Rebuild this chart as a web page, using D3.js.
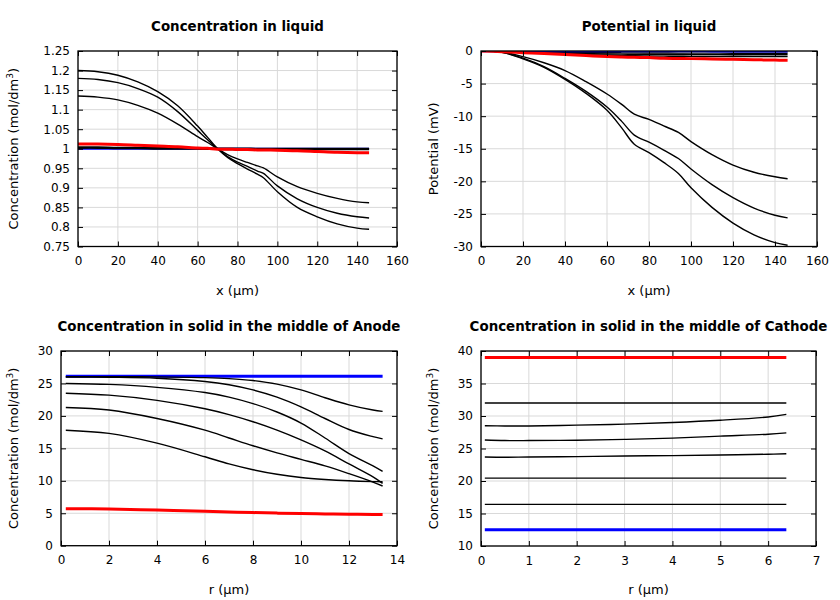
<!DOCTYPE html>
<html>
<head>
<meta charset="utf-8">
<script src="https://cdn.jsdelivr.net/npm/d3@7"></script>
<style>
  body { margin: 0; background: #fff; }
  svg { display: block; font-family: "DejaVu Sans", sans-serif; }
</style>
</head>
<body>
<svg id="chart" width="840" height="600"></svg>
<script>
// ---------------- DATA ----------------
// Panel 1: Concentration in liquid
const liqX = [0, 10, 20, 30, 40, 50, 60, 65, 70, 75, 80, 85, 90, 93, 100, 110, 120, 130, 140, 146];
const liqBlue  = [1, 1, 1, 1, 1, 1, 1, 1, 1, 1, 1, 1, 1, 1, 1, 1, 1, 1, 1, 1];
const liqBlack0 = [1.003, 1.003, 1.002, 1.002, 1.001, 1.001, 1.0005, 1.0003, 1.0, 0.9998, 0.9997, 0.9996, 0.9995, 0.9995, 0.9995, 0.9995, 0.9995, 0.9995, 0.9995, 0.9995];
const liqC1 = [1.200, 1.197, 1.188, 1.171, 1.146, 1.110, 1.058, 1.029, 1.000, 0.978, 0.962, 0.948, 0.935, 0.926, 0.890, 0.850, 0.826, 0.808, 0.797, 0.794];
const liqC2 = [1.180, 1.177, 1.169, 1.154, 1.132, 1.095, 1.047, 1.023, 1.000, 0.980, 0.966, 0.955, 0.943, 0.937, 0.905, 0.872, 0.850, 0.835, 0.826, 0.823];
const liqC3 = [1.135, 1.132, 1.125, 1.111, 1.091, 1.063, 1.031, 1.016, 1.000, 0.985, 0.974, 0.965, 0.956, 0.951, 0.928, 0.903, 0.886, 0.873, 0.864, 0.862];
const liqRed = [1.012, 1.012, 1.011, 1.009, 1.007, 1.005, 1.002, 1.001, 0.999, 0.999, 0.998, 0.998, 0.997, 0.997, 0.996, 0.995, 0.993, 0.991, 0.990, 0.990];
const liqXTicks = [0, 20, 40, 60, 80, 100, 120, 140, 160];
const liqYTicks = [0.75, 0.8, 0.85, 0.9, 0.95, 1, 1.05, 1.1, 1.15, 1.2, 1.25];

// Panel 2: Potential in liquid
const potX = [0, 10, 20, 30, 40, 50, 60, 67, 73, 80, 87, 94, 100, 110, 120, 130, 140, 146];
const potBlue = [0, 0, 0, 0, 0, 0, 0, 0, 0, 0, 0, 0, -0.01, -0.02, -0.03, -0.04, -0.05, -0.05];
const potS1 = [0, 0, -0.1, -0.15, -0.2, -0.23, -0.26, -0.28, -0.29, -0.3, -0.31, -0.32, -0.32, -0.33, -0.34, -0.34, -0.35, -0.35];
const potS2 = [0, -0.05, -0.15, -0.25, -0.33, -0.4, -0.45, -0.48, -0.5, -0.52, -0.53, -0.54, -0.55, -0.56, -0.57, -0.57, -0.58, -0.58];
const potS3 = [0, -0.07, -0.2, -0.33, -0.45, -0.56, -0.65, -0.7, -0.74, -0.77, -0.79, -0.81, -0.82, -0.84, -0.85, -0.86, -0.87, -0.87];
const potP1 = [0, -0.15, -0.87, -1.8, -3.0, -4.7, -6.6, -8.2, -9.7, -10.5, -11.5, -12.5, -13.9, -15.9, -17.5, -18.6, -19.3, -19.6];
const potP2 = [0, -0.2, -1.1, -2.4, -4.2, -6.2, -8.6, -10.8, -12.9, -14.0, -15.2, -16.5, -18.1, -20.5, -22.5, -24.1, -25.2, -25.6];
const potP3 = [0, -0.2, -1.2, -2.5, -4.35, -6.5, -9.1, -11.8, -14.3, -15.6, -17.1, -18.8, -21.0, -24.0, -26.4, -28.2, -29.4, -29.8];
const potRed = [0, -0.1, -0.25, -0.4, -0.55, -0.7, -0.85, -0.92, -0.97, -1.0, -1.12, -1.14, -1.17, -1.22, -1.28, -1.34, -1.4, -1.42];
const potXTicks = [0, 20, 40, 60, 80, 100, 120, 140, 160];
const potYTicks = [-30, -25, -20, -15, -10, -5, 0];

// Panel 3: Concentration in solid, middle of Anode
const anR = [0.2, 2, 4, 6, 7, 8, 9, 10, 11, 12, 13, 13.4];
const anBlue = [26.1, 26.1, 26.1, 26.1, 26.1, 26.1, 26.1, 26.1, 26.1, 26.1, 26.1, 26.1];
const anK0 = [26.05, 26.05, 26.02, 25.9, 25.75, 25.45, 24.9, 24.0, 22.8, 21.7, 20.9, 20.7];
const anK1 = [26.0, 25.95, 25.8, 25.3, 24.8, 24.0, 22.9, 21.4, 19.6, 17.9, 16.8, 16.45];
const anK2 = [25.0, 24.85, 24.4, 23.6, 22.9, 21.9, 20.6, 18.9, 16.6, 14.2, 12.3, 11.45];
const anK3 = [23.5, 23.2, 22.4, 21.1, 20.2, 19.1, 17.8, 16.3, 14.6, 12.6, 10.6, 9.6];
const anK4 = [21.3, 20.9, 19.6, 17.8, 16.6, 15.4, 14.3, 13.3, 12.3, 11.1, 9.8, 9.2];
const anK5 = [17.8, 17.3, 15.8, 13.7, 12.6, 11.7, 11.0, 10.5, 10.2, 10.0, 9.88, 9.85];
const anRed = [5.7, 5.65, 5.5, 5.3, 5.2, 5.1, 5.02, 4.95, 4.9, 4.85, 4.82, 4.8];
const anXTicks = [0, 2, 4, 6, 8, 10, 12, 14];
const anYTicks = [0, 5, 10, 15, 20, 25, 30];

// Panel 4: Concentration in solid, middle of Cathode
const caR = [0.08, 0.5, 1, 2, 3, 4, 5, 6, 6.38];
const caRed = [39, 39, 39, 39, 39, 39, 39, 39, 39];
const caF1 = [32, 32, 32, 32, 32, 32, 32, 32, 32];
const caA = [28.5, 28.47, 28.47, 28.6, 28.75, 29.0, 29.35, 29.85, 30.25];
const caB = [26.3, 26.22, 26.22, 26.27, 26.4, 26.6, 26.9, 27.2, 27.4];
const caC = [23.7, 23.66, 23.7, 23.75, 23.85, 23.9, 24.0, 24.12, 24.2];
const caF2 = [20.45, 20.45, 20.45, 20.45, 20.45, 20.45, 20.45, 20.45, 20.45];
const caF3 = [16.4, 16.4, 16.4, 16.4, 16.4, 16.4, 16.4, 16.4, 16.4];
const caBlue = [12.5, 12.5, 12.5, 12.5, 12.5, 12.5, 12.5, 12.5, 12.5];
const caXTicks = [0, 1, 2, 3, 4, 5, 6, 7];
const caYTicks = [10, 15, 20, 25, 30, 35, 40];

// ---------------- DRAWING ----------------
const svg = d3.select("#chart");
const BLUE = "#0000ff", RED = "#ff0000", BLACK = "#000000";

function panel(cfg) {
  const { left, right, top, bottom } = cfg.box;
  const w = right - left, h = bottom - top;
  const x = d3.scaleLinear().domain(cfg.xDomain).range([0, w]);
  const y = d3.scaleLinear().domain(cfg.yDomain).range([h, 0]);
  const g = svg.append("g").attr("transform", `translate(${left},${top})`);

  // grid
  const grid = g.append("g").attr("class", "grid");
  grid.selectAll("line.gx").data(cfg.xTicks).join("line")
    .attr("x1", d => x(d)).attr("x2", d => x(d)).attr("y1", 0).attr("y2", h)
    .attr("stroke", "#d9d9d9").attr("stroke-width", 1);
  grid.selectAll("line.gy").data(cfg.yTicks).join("line")
    .attr("class", "gy")
    .attr("x1", 0).attr("x2", w).attr("y1", d => y(d)).attr("y2", d => y(d))
    .attr("stroke", "#d9d9d9").attr("stroke-width", 1);

  // series
  const clip = "clip" + cfg.id;
  g.append("clipPath").attr("id", clip).append("rect").attr("width", w).attr("height", h);
  const lines = g.append("g").attr("clip-path", `url(#${clip})`);
  const line = d3.line().x(d => x(d[0])).y(d => y(d[1])).curve(d3.curveCatmullRom.alpha(0.5));
  cfg.series.forEach(s => {
    lines.append("path")
      .datum(cfg.xs.map((xv, i) => [xv, s.values[i]]))
      .attr("d", line)
      .attr("fill", "none")
      .attr("stroke", s.color)
      .attr("stroke-width", s.width)
      .attr("stroke-linejoin", "round");
  });

  // axes with inward ticks
  const fmt = cfg.fmt || (d => d);
  const axB = g.append("g").attr("transform", `translate(0,${h})`)
    .call(d3.axisBottom(x).tickValues(cfg.xTicks).tickSize(-5).tickPadding(10).tickFormat(fmt));
  const axT = g.append("g")
    .call(d3.axisTop(x).tickValues(cfg.xTicks).tickSize(-5).tickFormat(""));
  const axL = g.append("g")
    .call(d3.axisLeft(y).tickValues(cfg.yTicks).tickSize(-5).tickPadding(8).tickFormat(cfg.yFmt || fmt));
  const axR = g.append("g").attr("transform", `translate(${w},0)`)
    .call(d3.axisRight(y).tickValues(cfg.yTicks).tickSize(-5).tickFormat(""));
  [axB, axT, axL, axR].forEach(a => {
    a.select(".domain").remove();
    a.selectAll(".tick line").attr("stroke", "#000").attr("stroke-width", 1);
    a.selectAll("text").attr("fill", "#000").attr("font-size", 12)
      .attr("font-family", "DejaVu Sans, sans-serif");
  });

  // frame
  g.append("rect").attr("width", w).attr("height", h)
    .attr("fill", "none").attr("stroke", "#000").attr("stroke-width", 1.3);

  // title
  svg.append("text").attr("x", left + w / 2).attr("y", top - 20.5)
    .attr("text-anchor", "middle").attr("font-size", 13.4).attr("font-weight", "bold")
    .text(cfg.title);
  // x label
  svg.append("text").attr("x", left + w / 2).attr("y", bottom + 48)
    .attr("text-anchor", "middle").attr("font-size", 13).text(cfg.xLabel);
  // y label
  const yl = svg.append("text")
    .attr("transform", `translate(${cfg.yLabelX},${top + h / 2}) rotate(-90)`)
    .attr("text-anchor", "middle").attr("font-size", 13);
  if (cfg.yLabelSup) {
    yl.append("tspan").text(cfg.yLabel);
    yl.append("tspan").attr("font-size", 9).attr("dy", -5).text(cfg.yLabelSup);
    yl.append("tspan").attr("dy", 5).text(")");
  } else {
    yl.text(cfg.yLabel);
  }
}

const concLabel = "Concentration (mol/dm";

panel({
  id: 1, box: { left: 78, right: 397, top: 51, bottom: 246.5 },
  xDomain: [0, 160], yDomain: [0.75, 1.25], xTicks: liqXTicks, yTicks: liqYTicks,
  xs: liqX,
  series: [
    { values: liqBlue, color: BLUE, width: 2 },
    { values: liqC1, color: BLACK, width: 1.4 },
    { values: liqC2, color: BLACK, width: 1.4 },
    { values: liqC3, color: BLACK, width: 1.4 },
    { values: liqBlack0, color: BLACK, width: 2.6 },
    { values: liqRed, color: RED, width: 3 }
  ],
  title: "Concentration in liquid", xLabel: "x (µm)",
  yLabel: concLabel, yLabelSup: "3", yLabelX: 18
});

panel({
  id: 2, box: { left: 481, right: 817, top: 51, bottom: 246.5 },
  xDomain: [0, 160], yDomain: [-30, 0], xTicks: potXTicks, yTicks: potYTicks,
  xs: potX,
  series: [
    { values: potS1, color: BLACK, width: 1.4 },
    { values: potS2, color: BLACK, width: 1.4 },
    { values: potS3, color: BLACK, width: 1.4 },
    { values: potP1, color: BLACK, width: 1.4 },
    { values: potP2, color: BLACK, width: 1.4 },
    { values: potP3, color: BLACK, width: 1.4 },
    { values: potBlue, color: BLUE, width: 2.5 },
    { values: potRed, color: RED, width: 3 }
  ],
  title: "Potential in liquid", xLabel: "x (µm)",
  yLabel: "Potential (mV)", yLabelX: 438
});

panel({
  id: 3, box: { left: 61, right: 397, top: 351, bottom: 545.7 },
  xDomain: [0, 14], yDomain: [0, 30], xTicks: anXTicks, yTicks: anYTicks,
  xs: anR,
  series: [
    { values: anBlue, color: BLUE, width: 3 },
    { values: anK0, color: BLACK, width: 1.4 },
    { values: anK1, color: BLACK, width: 1.4 },
    { values: anK2, color: BLACK, width: 1.4 },
    { values: anK3, color: BLACK, width: 1.4 },
    { values: anK4, color: BLACK, width: 1.4 },
    { values: anK5, color: BLACK, width: 1.4 },
    { values: anRed, color: RED, width: 3 }
  ],
  title: "Concentration in solid in the middle of Anode", xLabel: "r (µm)",
  yLabel: concLabel, yLabelSup: "3", yLabelX: 18
});

panel({
  id: 4, box: { left: 481, right: 816, top: 351, bottom: 546 },
  xDomain: [0, 7], yDomain: [10, 40], xTicks: caXTicks, yTicks: caYTicks,
  xs: caR,
  series: [
    { values: caF1, color: BLACK, width: 1.4 },
    { values: caA, color: BLACK, width: 1.4 },
    { values: caB, color: BLACK, width: 1.4 },
    { values: caC, color: BLACK, width: 1.4 },
    { values: caF2, color: BLACK, width: 1.4 },
    { values: caF3, color: BLACK, width: 1.4 },
    { values: caBlue, color: BLUE, width: 3 },
    { values: caRed, color: RED, width: 3 }
  ],
  title: "Concentration in solid in the middle of Cathode", xLabel: "r (µm)",
  yLabel: concLabel, yLabelSup: "3", yLabelX: 438
});
</script>
</body>
</html>
